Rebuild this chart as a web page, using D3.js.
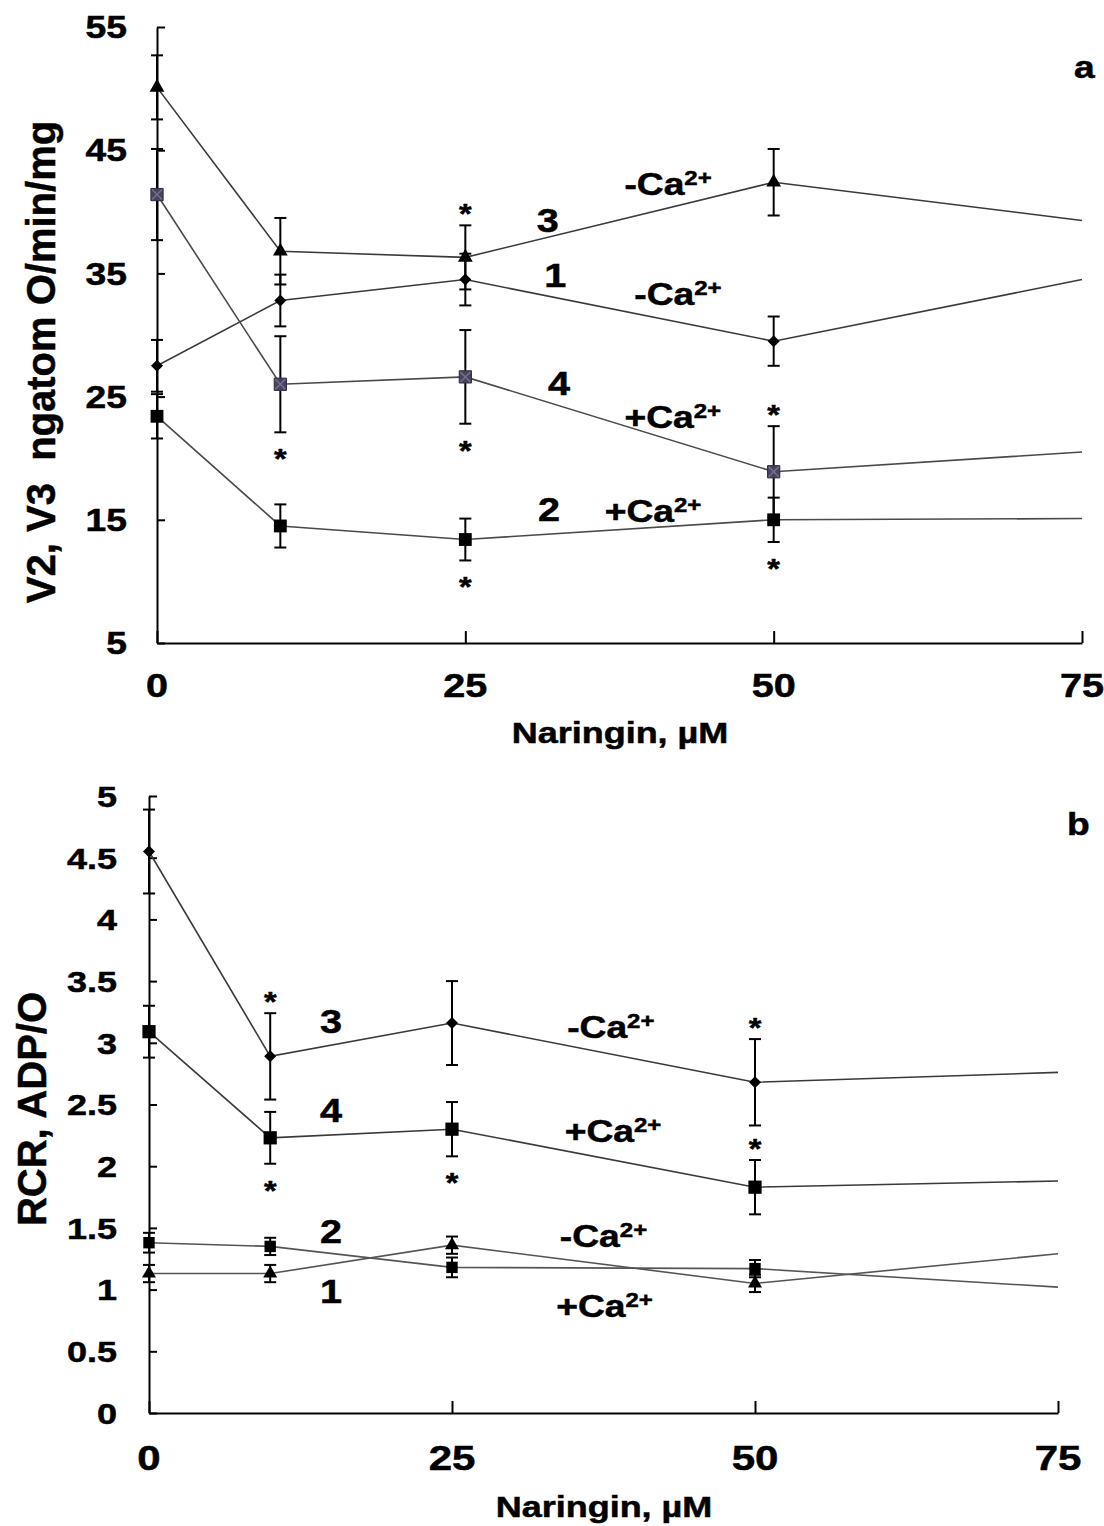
<!DOCTYPE html>
<html><head><meta charset="utf-8">
<script src="https://cdn.jsdelivr.net/npm/d3@7"></script>
<style>
body{margin:0;background:#fff;}
text{font-family:"Liberation Sans",Arial,Helvetica,sans-serif;font-weight:bold;fill:#000;stroke:#000;stroke-width:0.5px;}
</style>
</head><body>
<svg id="chart" width="1104" height="1526"></svg>
<script>
// ---------------- DATA ----------------
const concentrations = [0, 10, 25, 50, 75];      // Naringin, µM
const xTickValues = [0, 25, 50, 75];
const yTicksA = [5, 15, 25, 35, 45, 55];
const yTicksB = [0, 0.5, 1, 1.5, 2, 2.5, 3, 3.5, 4, 4.5, 5];

// Panel a: V2, V3 (ngatom O/min/mg)
const a1Values = [27.5, 32.8, 34.5, 29.5, 34.5];   // curve 1, -Ca2+
const a1Errors = [2.1, 2.1, 2.1, 2.0, null];
const a2Values = [23.4, 14.5, 13.4, 15.0, 15.1];   // curve 2, +Ca2+
const a2Errors = [1.8, 1.75, 1.7, 1.8, null];
const a3Values = [50.1, 36.8, 36.3, 42.4, 39.3];   // curve 3, -Ca2+
const a3Errors = [2.6, 2.7, 2.6, 2.7, null];
const a4Values = [41.4, 26.0, 26.6, 18.9, 20.5];   // curve 4, +Ca2+
const a4Errors = [3.7, 3.9, 3.8, 3.7, null];

// Panel b: RCR, ADP/O
const b1Values = [1.13, 1.13, 1.36, 1.05, 1.29];   // curve 1, +Ca2+
const b1Errors = [0.07, 0.07, 0.07, 0.07, null];
const b2Values = [1.38, 1.35, 1.18, 1.17, 1.02];   // curve 2, -Ca2+
const b2Errors = [0.08, 0.07, 0.08, 0.07, null];
const b3Values = [4.55, 2.89, 3.16, 2.68, 2.76];   // curve 3, -Ca2+
const b3Errors = [0.34, 0.35, 0.34, 0.35, null];
const b4Values = [3.09, 2.23, 2.30, 1.83, 1.88];   // curve 4, +Ca2+
const b4Errors = [0.21, 0.21, 0.22, 0.22, null];

// significance marks: series, concentration index, side
const aStars = [["a3",2,"above"],["a4",1,"below"],["a4",2,"below"],["a4",3,"above"],["a2",2,"below"],["a2",3,"below"]];
const bStars = [["b3",1,"above"],["b4",1,"below"],["b4",2,"below"],["b3",3,"above"],["b4",3,"above"]];

// curve labels: [number, sign] and their anchor in data units
const aLabels = [["3",[30.8,38.4]],["1",[31.4,33.9]],["4",[31.7,25.1]],["2",[30.9,14.9]]];
const aCaLabels = [["-",[37.9,41.4]],["-",[38.7,32.4]],["+",[37.9,22.45]],["+",[36.3,14.8]]];
const bLabels = [["3",[14.1,3.08]],["4",[14.1,2.36]],["2",[14.1,1.38]],["1",[14.1,0.89]]];
const bCaLabels = [["-",[34.5,3.04]],["+",[34.3,2.20]],["-",[33.9,1.345]],["+",[33.6,0.78]]];

// ---------------- LAYOUT ----------------
const svg = d3.select("#chart");
const SX = 1.2; // horizontal glyph widening seen in the reference

function label(g, x, y, str, size, anchor, rot) {
  return g.append("text")
    .attr("transform", `translate(${x},${y}) rotate(${rot||0}) scale(${rot ? 1 : SX},1)`)
    .attr("text-anchor", anchor)
    .style("font-size", size + "px")
    .text(str);
}
function caLabel(g, x, y, sign) {
  const t = g.append("text")
    .attr("transform", `translate(${x},${y}) scale(${SX},1)`)
    .style("font-size", "31px");
  t.append("tspan").text(sign + "Ca");
  t.append("tspan").attr("dy", -10).style("font-size", "20px").text("2+");
}

const markers = {
  triangle: (g, size) => g.append("path").attr("d", d3.symbol(d3.symbolTriangle, size || 95)()).attr("fill", "#000"),
  diamond: (g) => g.append("path").attr("d", d3.symbol(d3.symbolSquare, 72)()).attr("transform", "rotate(45)").attr("fill", "#000"),
  square: (g, size) => g.append("path").attr("d", d3.symbol(d3.symbolSquare, size || 165)()).attr("fill", "#000"),
  xsquare: (g) => {
    g.append("path").attr("d", d3.symbol(d3.symbolSquare, 150)()).attr("fill", "#47445e").attr("stroke", "#2e2c40").attr("stroke-width", 1);
    g.append("path").attr("d", "M-5,-5L5,5M-5,5L5,-5").attr("stroke", "#75728e").attr("stroke-width", 1.4);
  }
};

function drawPanel(cfg) {
  const g = svg.append("g");
  const x = d3.scaleLinear().domain([0, 75]).range(cfg.xRange);
  const y = d3.scaleLinear().domain(cfg.yDomain).range(cfg.yRange);

  // axes (ticks point inward)
  const yAxis = d3.axisLeft(y).tickValues(cfg.yTicks).tickSize(-8).tickSizeOuter(0).tickFormat("");
  g.append("g").attr("transform", `translate(${cfg.xRange[0]},0)`).call(yAxis)
    .call(a => a.selectAll("path,line").attr("stroke", "#000").attr("stroke-width", 2));
  const xAxis = d3.axisBottom(x).tickValues(xTickValues).tickSize(-12).tickSizeOuter(0).tickFormat("");
  g.append("g").attr("transform", `translate(0,${cfg.yRange[0]})`).call(xAxis)
    .call(a => a.selectAll("path,line").attr("stroke", "#000").attr("stroke-width", 2));

  // tick labels
  cfg.yTicks.forEach(v => label(g, cfg.yLabelX, y(v) + cfg.yTickFont * 0.36, String(v), cfg.yTickFont, "end"));
  xTickValues.forEach(v => label(g, x(v), cfg.xLabelY, String(v), cfg.xTickFont, "middle"));

  // axis titles
  label(g, cfg.xTitle[0], cfg.xTitle[1], "Naringin, µM", 30, "middle");
  g.append("text")
    .attr("transform", `translate(${cfg.yTitle[0]},${cfg.yTitle[1]}) rotate(-90)`)
    .attr("text-anchor", "middle").style("font-size", "40px")
    .attr("xml:space", "preserve")
    .text(cfg.yTitleText);
  label(g, cfg.panelLabel[1], cfg.panelLabel[2], cfg.panelLabel[0], 31, "start");

  const line = d3.line().x((d, i) => x(concentrations[i])).y(d => y(d));
  const seriesByKey = {};
  cfg.series.forEach(s => { seriesByKey[s.key] = s; });

  // lines
  cfg.series.forEach(s => {
    g.append("path").datum(s.values).attr("d", line)
      .attr("fill", "none").attr("stroke", s.lineColor || "#3a3a3a").attr("stroke-width", 1.6);
  });
  // error bars
  cfg.series.forEach(s => {
    s.values.forEach((v, i) => {
      const e = s.errors[i];
      if (e == null) return;
      const cx = x(concentrations[i]);
      const y1 = y(v + e), y2 = y(v - e);
      g.append("line").attr("x1", cx).attr("x2", cx).attr("y1", y1).attr("y2", y2).attr("stroke", "#000").attr("stroke-width", 2);
      [y1, y2].forEach(yy => g.append("line").attr("x1", cx - 6).attr("x2", cx + 6).attr("y1", yy).attr("y2", yy).attr("stroke", "#000").attr("stroke-width", 2));
    });
  });
  // markers (no marker on the last point)
  cfg.series.forEach(s => {
    s.values.forEach((v, i) => {
      if (s.errors[i] == null) return;
      const mg = g.append("g").attr("transform", `translate(${x(concentrations[i])},${y(v)})`);
      markers[s.marker](mg, s.markerSize);
    });
  });
  // stars
  cfg.stars.forEach(([key, i, side]) => {
    const s = seriesByKey[key];
    const v = s.values[i], e = s.errors[i];
    const cx = x(concentrations[i]);
    const cy = side === "above" ? y(v + e) - 17 : y(v - e) + 21;
    label(g, cx, cy + 15, "*", 27, "middle");
  });
  // curve labels
  cfg.labels.forEach(([t, p]) => label(g, x(p[0]), y(p[1]), t, 33, "start"));
  cfg.caLabels.forEach(([sign, p]) => caLabel(g, x(p[0]), y(p[1]), sign));
}

drawPanel({
  xRange: [157, 1082], yDomain: [5, 55], yRange: [643, 27], yTicks: yTicksA,
  yLabelX: 127, yTickFont: 31, xLabelY: 697, xTickFont: 33,
  xTitle: [620, 743], yTitle: [55, 362], yTitleText: "V2, V3  ngatom O/min/mg",
  panelLabel: ["a", 1074, 78],
  series: [
    { key: "a1", values: a1Values, errors: a1Errors, marker: "diamond" },
    { key: "a2", values: a2Values, errors: a2Errors, marker: "square", lineColor: "#4a4a4a" },
    { key: "a3", values: a3Values, errors: a3Errors, marker: "triangle" },
    { key: "a4", values: a4Values, errors: a4Errors, marker: "xsquare", lineColor: "#4a4a4a" }
  ],
  stars: aStars, labels: aLabels, caLabels: aCaLabels
});

drawPanel({
  xRange: [149, 1058], yDomain: [0, 5], yRange: [1413, 796], yTicks: yTicksB,
  yLabelX: 117, yTickFont: 30, xLabelY: 1470, xTickFont: 35,
  xTitle: [604, 1517], yTitle: [46, 1109], yTitleText: "RCR, ADP/O",
  panelLabel: ["b", 1067, 835],
  series: [
    { key: "b1", values: b1Values, errors: b1Errors, marker: "triangle", markerSize: 85, lineColor: "#555" },
    { key: "b2", values: b2Values, errors: b2Errors, marker: "square", markerSize: 130, lineColor: "#555" },
    { key: "b3", values: b3Values, errors: b3Errors, marker: "diamond" },
    { key: "b4", values: b4Values, errors: b4Errors, marker: "square", markerSize: 175 }
  ],
  stars: bStars, labels: bLabels, caLabels: bCaLabels
});
</script>
</body></html>
